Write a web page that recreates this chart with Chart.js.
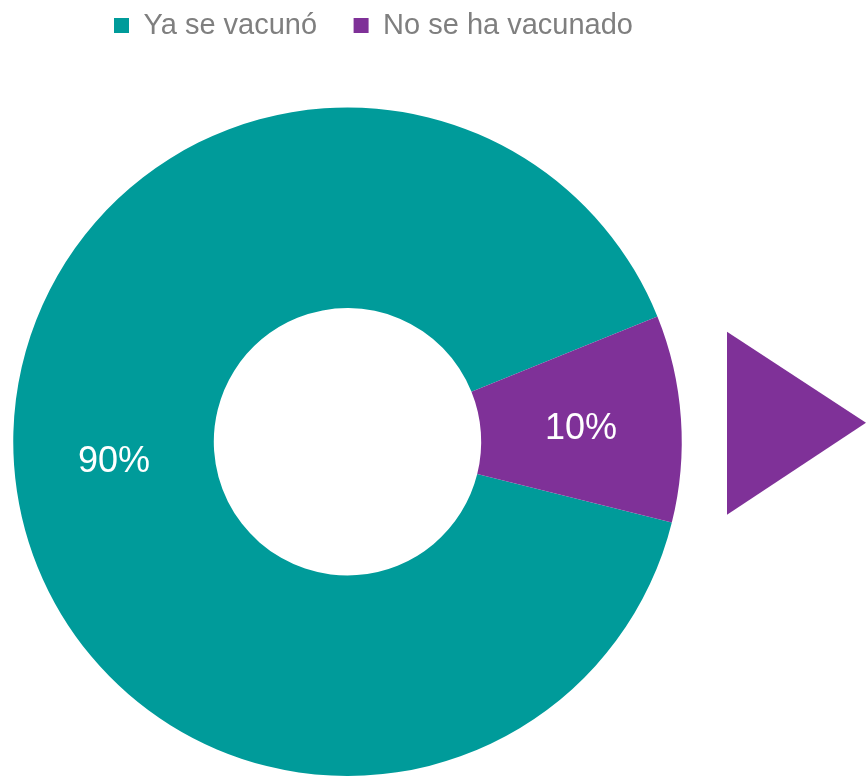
<!DOCTYPE html>
<html>
<head>
<meta charset="utf-8">
<script src="https://cdn.jsdelivr.net/npm/chart.js@4.4.1/dist/chart.umd.min.js"></script>
<style>
  html, body { margin: 0; padding: 0; background: #fff; }
  #wrap { width: 866px; height: 776px; position: relative; }
</style>
</head>
<body>
<div id="wrap"><canvas id="chart"></canvas></div>
<script>
// data
const categories = ["Ya se vacunó", "No se ha vacunado"];
const shares = [90, 10];
const sliceColors = ["#009B9A", "#7F3198"];

const FONT = "'Liberation Sans', Arial, sans-serif";

// nudges the legend row to where the original sits
const legendShift = {
  id: "legendShift",
  afterLayout(chart) {
    const lg = chart.legend;
    if (!lg) return;
    lg.left += 26;
    lg.right += 26;
    lg.top -= 57.5;
    lg.bottom -= 57.5;
  },
};

// percent text in the middle of each slice
const sliceLabels = {
  id: "sliceLabels",
  afterDatasetsDraw(chart) {
    const { ctx } = chart;
    const meta = chart.getDatasetMeta(0);
    const data = chart.data.datasets[0].data;
    const total = data.reduce((a, b) => a + b, 0);
    ctx.save();
    ctx.font = `36px ${FONT}`;
    ctx.fillStyle = "#ffffff";
    ctx.textAlign = "center";
    ctx.textBaseline = "middle";
    meta.data.forEach((arc, i) => {
      const p = arc.getCenterPoint();
      ctx.fillText(`${Math.round((data[i] / total) * 100)}%`, p.x, p.y + 4);
    });
    ctx.restore();
  },
};

// purple arrow to the right of the ring
const sideArrow = {
  id: "sideArrow",
  afterDraw(chart) {
    const { ctx, chartArea, width } = chart;
    const arc = chart.getDatasetMeta(0).data[0];
    const cy = arc.y;
    const x0 = chartArea.right + 45;
    ctx.save();
    ctx.fillStyle = sliceColors[1];
    ctx.beginPath();
    ctx.moveTo(x0, cy - 110);
    ctx.lineTo(width, cy - 19);
    ctx.lineTo(x0, cy + 73);
    ctx.closePath();
    ctx.fill();
    ctx.restore();
  },
};

new Chart(document.getElementById("chart"), {
  type: "doughnut",
  data: {
    labels: categories,
    datasets: [
      {
        data: shares,
        backgroundColor: sliceColors,
        borderWidth: 0,
        hoverOffset: 0,
      },
    ],
  },
  options: {
    responsive: true,
    maintainAspectRatio: false,
    animation: false,
    cutout: "40%",
    rotation: 104,
    layout: { padding: { left: 13, right: 184, top: 32, bottom: 0 } },
    plugins: {
      legend: {
        position: "top",
        labels: {
          boxWidth: 15,
          boxHeight: 15,
          padding: 36.5,
          color: "#7f7f7f",
          font: { family: FONT, size: 29 },
        },
      },
      tooltip: { enabled: false },
    },
  },
  plugins: [legendShift, sliceLabels, sideArrow],
});
</script>
</body>
</html>
